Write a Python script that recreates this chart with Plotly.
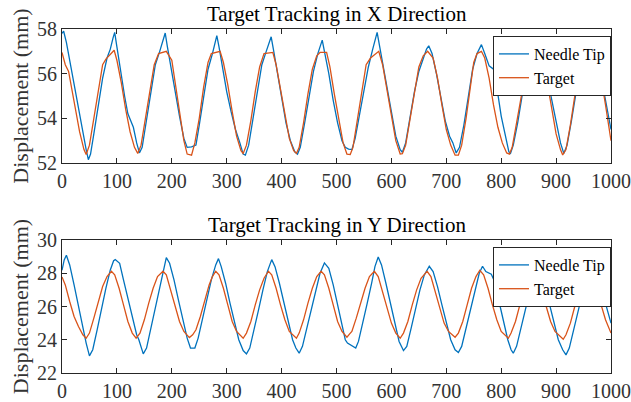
import plotly.graph_objects as go

# ---------------- data ----------------
x_target_t = [0, 6, 12, 22, 32, 40, 44, 50, 58, 66, 74, 80, 88, 95, 100, 108, 116, 124, 132, 138, 144, 152, 160, 168, 176, 190,
              200, 206, 214, 222, 228, 236, 242, 250, 258, 266, 272, 288, 294, 302, 310, 318, 326, 330, 336, 344, 352, 360, 368, 384,
              390, 398, 406, 414, 422, 427, 432, 440, 448, 456, 464, 470, 482, 488, 496, 504, 512, 519, 525, 530, 538, 546, 554, 562,
              577, 584, 592, 600, 608, 616, 620, 626, 634, 642, 650, 658, 666, 676, 684, 692, 700, 708, 716, 722, 728, 736, 744, 750,
              756, 764, 770, 778, 786, 794, 802, 810, 815, 820, 828, 836, 844, 852, 860, 868, 876, 884, 892, 900, 908, 912, 918, 926,
              934, 942, 950, 957, 966, 974, 982, 990, 1000]
x_target_v = [56.95, 56.4, 56.1, 54.8, 53.4, 52.6, 52.38, 52.8, 54.0, 55.4, 56.4, 56.65, 56.85, 57.05, 56.6, 55.6, 54.4, 53.4, 52.7, 52.43, 52.8, 54.0, 55.3, 56.4, 56.9, 57.0,
              56.6, 55.6, 54.2, 53.0, 52.4, 52.35, 52.9, 54.0, 55.4, 56.5, 56.9, 57.0, 56.5, 55.5, 54.3, 53.2, 52.55, 52.43, 52.8, 53.9, 55.2, 56.3, 56.9, 56.95,
              56.4, 55.3, 54.1, 53.1, 52.55, 52.43, 52.7, 53.8, 55.1, 56.2, 56.8, 56.95, 56.95, 56.3, 55.1, 53.9, 52.9, 52.4, 52.38, 52.7, 53.9, 55.2, 56.4, 56.7,
              57.0, 56.4, 55.2, 54.0, 53.0, 52.4, 52.42, 52.8, 54.0, 55.3, 56.3, 56.8, 57.0, 56.7, 55.8, 54.6, 53.5, 52.8, 52.35, 52.35, 52.8, 54.0, 55.4, 56.5,
              56.9, 57.0, 56.7, 55.8, 54.6, 53.6, 52.9, 52.45, 52.4, 52.7, 53.8, 55.0, 56.0, 56.7, 57.0, 56.8, 56.3, 55.6, 54.4, 53.3, 52.6, 52.36, 52.6, 53.7,
              55.0, 56.2, 56.8, 57.0, 56.8, 56.3, 55.8, 54.6, 53.0]

x_needle_t = [0, 3, 8, 14, 22, 30, 38, 44, 48, 52, 58, 66, 74, 82, 88, 93, 96, 100, 106, 114, 120, 126, 130, 136, 141, 146, 154, 162,
              170, 178, 184, 188, 192, 198, 206, 214, 222, 228, 236, 244, 250, 258, 266, 274, 279, 282, 286, 292, 300, 308, 316, 324,
              330, 334, 340, 348, 356, 364, 372, 377, 381, 385, 392, 400, 408, 416, 424, 429, 434, 442, 450, 458, 466, 471, 474, 478,
              486, 494, 502, 510, 516, 522, 528, 534, 542, 550, 558, 566, 571, 574, 578, 584, 592, 600, 608, 616, 620, 626, 634, 642,
              650, 658, 664, 668, 674, 682, 690, 698, 706, 712, 718, 724, 732, 740, 748, 756, 764, 770, 778, 786, 792, 800, 808, 814,
              817, 822, 830, 838, 846, 854, 860, 866, 874, 884, 892, 900, 908, 914, 920, 928, 936, 944, 952, 958, 966, 976, 984, 992, 1000]
x_needle_v = [57.8, 57.9, 57.4, 56.6, 55.4, 54.3, 53.3, 52.6, 52.15, 52.4, 53.3, 54.6, 55.8, 56.7, 57.1, 57.6, 57.85, 57.2, 56.2, 55.0, 54.2, 53.8, 53.6, 52.9, 52.45, 52.7, 53.9, 55.3,
              56.4, 57.0, 57.5, 57.82, 57.2, 56.3, 55.2, 54.1, 53.1, 52.7, 52.72, 52.8, 53.7, 55.0, 56.2, 56.9, 57.5, 57.7, 57.2, 56.3, 55.2, 54.3, 53.5, 52.9,
              52.4, 52.35, 52.8, 54.0, 55.3, 56.4, 57.0, 57.4, 57.65, 57.1, 56.1, 54.9, 53.8, 53.0, 52.5, 52.4, 52.7, 53.8, 55.0, 56.1, 56.9, 57.3, 57.5, 57.0,
              56.0, 54.8, 53.8, 53.0, 52.7, 52.62, 52.6, 53.1, 54.2, 55.3, 56.3, 57.1, 57.6, 57.85, 57.3, 56.5, 55.4, 54.2, 53.2, 52.6, 52.48, 52.9, 54.0, 55.2,
              56.1, 56.7, 57.1, 57.25, 56.9, 56.0, 54.9, 53.9, 53.2, 52.9, 52.45, 52.7, 53.7, 55.0, 56.2, 56.9, 57.3, 56.9, 56.35, 56.2, 55.4, 54.1, 53.1, 52.5,
              52.43, 52.8, 53.8, 55.0, 56.2, 57.0, 57.4, 57.0, 56.3, 55.8, 54.8, 53.8, 52.9, 52.43, 52.8, 53.9, 55.2, 56.3, 57.1, 57.4, 57.0, 56.3, 55.6, 54.5, 53.5]

y_target_t = [0, 6, 14, 22, 30, 38, 44, 50, 58, 66, 74, 82, 90, 96, 104, 112, 120, 128, 135, 142, 150, 158, 166, 174, 184, 190,
              198, 206, 214, 222, 232, 238, 244, 252, 260, 268, 274, 280, 286, 294, 302, 310, 318, 330, 336, 344, 352, 360, 368, 376,
              382, 390, 398, 406, 414, 427, 432, 440, 448, 456, 464, 472, 478, 486, 494, 502, 510, 519, 524, 528, 536, 544, 552, 560,
              569, 576, 584, 592, 600, 608, 616, 622, 630, 638, 646, 654, 665, 672, 680, 688, 696, 704, 716, 722, 730, 738, 746, 754,
              761, 768, 776, 784, 792, 800, 813, 818, 826, 834, 842, 850, 858, 866, 874, 882, 890, 898, 913, 918, 926, 934, 942, 950,
              958, 966, 974, 982, 990, 1000]
y_target_v = [27.78, 27.3, 26.3, 25.4, 24.8, 24.3, 24.09, 24.4, 25.3, 26.3, 27.2, 27.8, 28.12, 27.9, 27.1, 26.1, 25.1, 24.4, 24.09, 24.4, 25.2, 26.2, 27.1, 27.8, 28.12, 27.9,
              27.0, 26.0, 25.1, 24.5, 24.13, 24.3, 24.6, 25.4, 26.4, 27.3, 27.8, 28.12, 27.9, 27.1, 26.1, 25.1, 24.5, 24.09, 24.4, 25.1, 26.1, 27.0, 27.7, 28.12,
              27.9, 27.1, 26.1, 25.2, 24.5, 24.09, 24.4, 25.2, 26.2, 27.1, 27.8, 28.12, 27.9, 27.1, 26.1, 25.1, 24.5, 24.15, 24.35, 24.5, 25.3, 26.2, 27.1, 27.8,
              28.12, 27.8, 26.9, 25.9, 25.0, 24.4, 24.09, 24.4, 25.1, 26.1, 27.0, 27.7, 28.12, 27.8, 26.9, 25.9, 25.0, 24.5, 24.15, 24.4, 25.1, 26.1, 27.1, 27.8,
              28.18, 27.9, 27.1, 26.1, 25.2, 24.5, 24.09, 24.4, 25.1, 26.1, 27.0, 27.7, 28.1, 27.8, 27.0, 26.0, 25.1, 24.5, 24.03, 24.3, 25.0, 26.0, 26.9, 27.6,
              28.1, 27.8, 27.0, 26.1, 25.2, 24.4]

y_needle_t = [0, 4, 8, 14, 22, 30, 38, 44, 50, 56, 64, 72, 80, 88, 94, 97, 105, 112, 120, 128, 136, 140, 144, 148, 154, 162, 170, 178,
              184, 190, 196, 204, 212, 220, 228, 234, 242, 248, 256, 264, 272, 280, 285, 290, 298, 306, 314, 322, 330, 336, 342, 350,
              358, 366, 374, 382, 388, 396, 404, 412, 420, 426, 432, 438, 446, 454, 462, 470, 478, 486, 494, 502, 510, 516, 520, 528,
              535, 540, 548, 556, 564, 570, 576, 582, 590, 598, 606, 614, 622, 628, 636, 644, 652, 660, 669, 676, 684, 692, 700, 708,
              716, 722, 728, 736, 744, 752, 760, 766, 772, 782, 788, 796, 804, 812, 818, 822, 828, 836, 844, 852, 860, 866, 872, 880,
              888, 896, 904, 912, 918, 924, 932, 940, 948, 956, 963, 970, 978, 986, 994, 1000]
y_needle_v = [28.18, 28.8, 29.08, 28.5, 27.3, 26.0, 24.8, 23.8, 23.03, 23.4, 24.6, 25.9, 27.1, 28.2, 28.75, 28.82, 28.6, 27.6, 26.5, 25.3, 24.3, 24.0, 23.5, 23.15, 23.5, 24.7, 25.9, 27.1,
              28.2, 28.94, 28.6, 27.6, 26.4, 25.2, 24.1, 23.5, 23.5, 24.1, 25.3, 26.5, 27.6, 28.5, 28.88, 28.4, 27.4, 26.2, 25.0, 24.0, 23.35, 23.15, 23.5, 24.6,
              25.8, 27.0, 28.1, 28.82, 28.4, 27.4, 26.2, 25.0, 24.0, 23.5, 23.19, 23.6, 24.7, 25.9, 27.0, 28.0, 28.62, 28.3, 27.3, 26.1, 24.9, 24.0, 23.8, 23.65,
              23.5, 23.9, 25.0, 26.2, 27.4, 28.4, 28.98, 28.5, 27.4, 26.2, 25.0, 23.9, 23.35, 23.6, 24.7, 25.9, 27.0, 27.9, 28.42, 28.1, 27.2, 26.1, 25.0, 24.0,
              23.4, 23.23, 23.6, 24.7, 25.9, 27.0, 28.0, 28.42, 28.1, 27.94, 27.5, 26.3, 25.1, 24.0, 23.4, 23.19, 23.6, 24.7, 25.9, 27.0, 28.0, 28.5, 28.1, 27.2,
              26.1, 25.0, 24.0, 23.4, 23.09, 23.5, 24.6, 25.8, 26.9, 27.9, 28.5, 28.2, 27.6, 26.7, 25.8, 25.0]

x_ticks = [0, 100, 200, 300, 400, 500, 600, 700, 800, 900, 1000]
y1_ticks = [52, 54, 56, 58]
y2_ticks = [22, 24, 26, 28, 30]
titles = ["Target Tracking in X Direction", "Target Tracking in Y Direction"]
ylabel = "Displacement (mm)"
names = ["Needle Tip", "Target"]

# ---------------- style ----------------
BLUE = "#0072BD"
ORANGE = "#D95319"
AX = "#262626"
TXT = "#333333"
FONT = "Liberation Serif"
TICK_FS = 20
TITLE_FS = 21
YLAB_FS = 22
LEG_FS = 16
W, H = 631, 402

fig = go.Figure()
fig.add_trace(go.Scatter(x=x_needle_t, y=x_needle_v, name=names[0], mode="lines",
                         line=dict(color=BLUE, width=1.3), xaxis="x", yaxis="y", legend="legend"))
fig.add_trace(go.Scatter(x=x_target_t, y=x_target_v, name=names[1], mode="lines",
                         line=dict(color=ORANGE, width=1.3), xaxis="x", yaxis="y", legend="legend"))
fig.add_trace(go.Scatter(x=y_needle_t, y=y_needle_v, name=names[0], mode="lines",
                         line=dict(color=BLUE, width=1.3), xaxis="x2", yaxis="y2", legend="legend2"))
fig.add_trace(go.Scatter(x=y_target_t, y=y_target_v, name=names[1], mode="lines",
                         line=dict(color=ORANGE, width=1.3), xaxis="x2", yaxis="y2", legend="legend2"))

xl, xr = 62 / W, 611 / W
top_dom = [1 - 163 / H, 1 - 29 / H]
bot_dom = [1 - 373 / H, 1 - 240 / H]

axis_common = dict(showline=True, linecolor=AX, linewidth=1, mirror="ticks", ticks="inside",
                   ticklen=5, tickcolor=AX, tickwidth=1, showgrid=False, zeroline=False,
                   automargin=False, tickfont=dict(family=FONT, size=TICK_FS, color=TXT))

fig.update_layout(
    width=W, height=H, margin=dict(l=0, r=0, t=0, b=0, autoexpand=False),
    paper_bgcolor="white", plot_bgcolor="white",
    font=dict(family=FONT, size=TICK_FS, color=TXT),
    xaxis=dict(domain=[xl, xr], range=[0, 1000], tickvals=x_ticks, anchor="y", **axis_common),
    yaxis=dict(domain=top_dom, range=[52, 58], tickvals=y1_ticks, anchor="x",
               title=dict(text=ylabel, standoff=2, font=dict(family=FONT, size=YLAB_FS, color=TXT)), **axis_common),
    xaxis2=dict(domain=[xl, xr], range=[0, 1000], tickvals=x_ticks, anchor="y2", **axis_common),
    yaxis2=dict(domain=bot_dom, range=[22, 30], tickvals=y2_ticks, anchor="x2",
                title=dict(text=ylabel, standoff=2, font=dict(family=FONT, size=YLAB_FS, color=TXT)), **axis_common),
    legend=dict(x=xr, xanchor="right", y=top_dom[1] - 7 / H, yanchor="top",
                bgcolor="white", bordercolor=AX, borderwidth=1,
                font=dict(family=FONT, size=LEG_FS, color="black"),
                itemwidth=30, tracegroupgap=0),
    legend2=dict(x=xr, xanchor="right", y=bot_dom[1] - 7 / H, yanchor="top",
                 bgcolor="white", bordercolor=AX, borderwidth=1,
                 font=dict(family=FONT, size=LEG_FS, color="black"),
                 itemwidth=30, tracegroupgap=0),
    showlegend=True,
)

for title, dom in zip(titles, [top_dom, bot_dom]):
    fig.add_annotation(text=title, xref="paper", yref="paper", x=(xl + xr) / 2, y=dom[1],
                       xanchor="center", yanchor="bottom", yshift=1, showarrow=False,
                       font=dict(family=FONT, size=TITLE_FS, color="black"))

# remove the browser's default 8px page margin so the figure fills the window exactly
fig.write_html("out.html", config={"displayModeBar": False},
               post_script="document.body.style.margin='0';document.body.style.overflow='hidden';")
